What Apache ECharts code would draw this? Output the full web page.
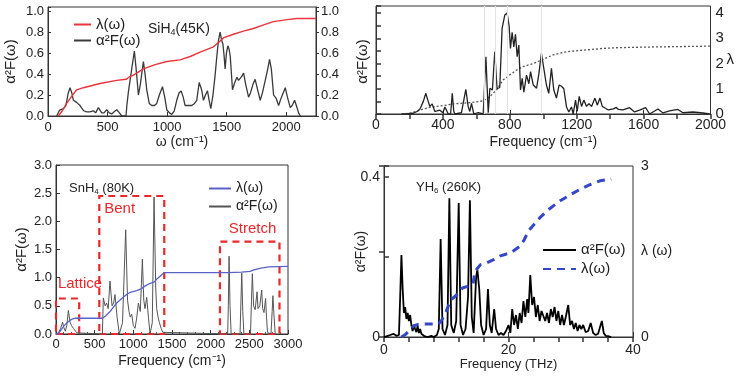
<!DOCTYPE html>
<html><head><meta charset="utf-8">
<script src="https://cdn.jsdelivr.net/npm/echarts@6/dist/echarts.min.js"></script>
<style>html,body{margin:0;padding:0;background:#fff}#c{width:736px;height:379px}</style>
</head><body><div id="c"></div>
<script>
// ---------- DATA ----------
// Panel 1: SiH4 (45K)  [omega cm^-1, value]
const siA2F = [[73,0],[98,0.057],[129,0.07],[150,0.1],[170,0.22],[185,0.27],[200,0.22],[213,0.15],[240,0.13],[269,0.1],[300,0.05],[325,0.04],[350,0.04],[381,0.05],[400,0.03],[423,0.08],[451,0.03],[470,0.03],[493,0.06],[515,0.03],[535,0.02],[555,0.04],[577,0.06],[600,0.03],[619,0],[655,0],[662,0.1],[675,0.23],[703,0.45],[725,0.62],[740,0.45],[759,0.2],[775,0.3],[801,0.52],[815,0.4],[829,0.25],[850,0.12],[871,0.1],[893,0.1],[913,0.12],[935,0.2],[961,0.28],[980,0.18],[997,0.06],[1020,0.03],[1039,0.015],[1060,0.05],[1081,0.15],[1100,0.22],[1118,0.24],[1135,0.18],[1151,0.1],[1180,0.1],[1207,0.1],[1230,0.12],[1249,0.15],[1269,0.32],[1290,0.25],[1305,0.15],[1322,0.2],[1339,0.24],[1353,0.15],[1367,0.07],[1385,0.2],[1403,0.39],[1420,0.6],[1431,0.72],[1445,0.8],[1458,0.72],[1468,0.69],[1478,0.58],[1487,0.45],[1498,0.6],[1510,0.67],[1520,0.64],[1530,0.57],[1540,0.4],[1549,0.25],[1568,0.32],[1586,0.37],[1600,0.34],[1614,0.33],[1628,0.38],[1642,0.41],[1660,0.3],[1684,0.18],[1700,0.22],[1720,0.3],[1739,0.35],[1760,0.25],[1782,0.15],[1800,0.22],[1824,0.34],[1845,0.45],[1860,0.54],[1875,0.45],[1894,0.2],[1915,0.17],[1936,0.1],[1960,0.18],[1992,0.27],[2010,0.18],[2034,0.08],[2050,0.1],[2070,0.15],[2085,0.1],[2104,0.03],[2118,0]];
const siLambda = [[87,0],[120,0.05],[157,0.12],[200,0.19],[241,0.25],[297,0.27],[437,0.31],[577,0.34],[655,0.35],[680,0.37],[717,0.39],[801,0.45],[900,0.49],[997,0.52],[1109,0.535],[1200,0.57],[1277,0.61],[1389,0.66],[1430,0.7],[1471,0.745],[1557,0.78],[1640,0.81],[1725,0.835],[1810,0.87],[1893,0.9],[2006,0.92],[2090,0.93],[2250,0.93]];
// Panel 2: [frequency cm^-1, value]
const p2A2F = [[153,0],[190,0.01],[223,0.03],[245,0.1],[263,0.2],[283,0.5],[298,0.82],[312,0.5],[322,0.3],[336,0.4],[352,0.1],[365,0.12],[382,0.15],[400,0.05],[412,0.28],[432,0],[446,0],[456,0.82],[465,0.1],[472,0],[511,0.05],[537,0.98],[551,0.3],[561,0.1],[571,0.42],[585,0],[611,0.05],[641,0],[657,2.27],[671,0.05],[681,1.02],[696,0.95],[710,2.47],[724,1.0],[740,1.05],[754,3.39],[770,3.92],[784,4.0],[796,3.48],[804,2.6],[814,3.24],[824,2.66],[834,3.16],[844,2.27],[854,2.73],[864,0.95],[874,1.41],[884,0.87],[900,1.54],[914,1.2],[924,1.68],[940,1.15],[960,1.02],[974,1.6],[989,2.4],[1005,1.74],[1019,1.15],[1033,0.82],[1049,1.81],[1063,0.95],[1079,0.63],[1095,1.15],[1109,1.1],[1123,1.0],[1139,0.28],[1153,0.08],[1169,0.28],[1179,0],[1193,0.55],[1203,0.1],[1215,0.7],[1229,0.3],[1243,0.55],[1259,0.3],[1273,0.41],[1289,0.3],[1309,0.63],[1323,0.35],[1339,0.63],[1353,0.3],[1369,0.24],[1389,0.16],[1419,0.2],[1437,0.26],[1449,0.18],[1477,0.16],[1516,0.25],[1546,0.08],[1576,0.15],[1612,0.25],[1636,0],[1686,0.2],[1716,0.04],[1755,0.12],[1805,0.18],[1835,0.05],[1895,0.08],[1955,0.04],[1995,0]];
const p2Lambda = [[153,0],[203,0.03],[250,0.12],[283,0.2],[320,0.26],[362,0.3],[400,0.33],[462,0.4],[561,0.45],[641,0.52],[681,0.69],[720,0.95],[760,1.35],[800,1.55],[840,1.74],[880,1.88],[940,2.0],[989,2.14],[1059,2.34],[1139,2.47],[1239,2.53],[1358,2.6],[1450,2.63],[1600,2.65],[2000,2.69]];
const p2Marks = [647, 712, 786, 989];
// Panel 3: SnH4 (80K)
const snA2F = [[0,0],[30,0.02],[60,0.1],[86,0.21],[100,0.12],[120,0.05],[140,0.15],[160,0.42],[180,0.22],[200,0.15],[225,0.1],[250,0.12],[270,0.02],[290,0],[600,0],[612,0.64],[635,0.5],[655,0.55],[675,0.45],[698,0.94],[725,0.5],[745,0.55],[763,0.7],[790,0.3],[819,0],[860,0.2],[901,1.85],[925,0.6],[944,0.4],[960,0.3],[979,0.35],[1000,0.15],[1022,0.1],[1045,0.3],[1065,0.55],[1090,0.4],[1117,1.33],[1135,0.6],[1151,0.45],[1173,0.65],[1195,0.3],[1216,0],[1245,0.2],[1268,2.43],[1290,0.8],[1302,0.45],[1320,0.3],[1337,0.2],[1360,0.1],[1380,0.03],[1400,0],[2220,0],[2228,0.5],[2238,1.38],[2250,0.5],[2265,0],[2380,0],[2392,0.6],[2402,1.08],[2415,0.4],[2430,0],[2515,0],[2528,0.6],[2539,1.07],[2555,0.5],[2575,0.43],[2600,0.75],[2612,0.45],[2635,0.5],[2660,0.78],[2672,0.45],[2690,0.38],[2710,0.63],[2722,0.3],[2735,0.03],[2780,0],[2795,0.4],[2805,0.68],[2820,0.3],[2835,0]];
const snLambda = [[0,0],[30,0],[60,0.06],[100,0.14],[150,0.21],[200,0.26],[250,0.28],[600,0.28],[640,0.32],[700,0.4],[785,0.55],[850,0.63],[914,0.7],[960,0.74],[1043,0.77],[1100,0.8],[1150,0.85],[1216,0.9],[1268,0.92],[1300,0.97],[1350,1.03],[1400,1.09],[1420,1.09],[2230,1.09],[2400,1.1],[2510,1.11],[2560,1.14],[2650,1.17],[2750,1.19],[3000,1.2]];
const snBoxes = [["Lattice",0,300,0.63],["Bent",560,1400,2.45],["Stretch",2120,2890,1.64]];
// Panel 4: YH6 (260K) [THz, value]
const yhA2F = [[0,0],[1,0.005],[1.5,0.008],[2,0.003],[2.4,0.005],[2.6,0.1],[2.8,0.205],[3.0,0.12],[3.2,0.06],[3.4,0.075],[3.6,0.045],[3.8,0.06],[4.0,0.04],[4.2,0.055],[4.4,0.03],[4.6,0.015],[4.8,0.03],[5.0,0.02],[5.2,0.012],[5.4,0.028],[5.6,0.01],[5.8,0.02],[6.0,0.008],[6.2,0.012],[6.5,0.002],[7,0],[7.6,0.003],[8,0],[8.5,0.005],[8.8,0.02],[9.1,0.245],[9.4,0.02],[9.8,0.005],[10.2,0.03],[10.5,0.347],[10.8,0.03],[11.2,0.01],[11.6,0.04],[12.0,0.335],[12.3,0.03],[12.7,0.005],[13.1,0.02],[13.5,0.1],[13.8,0.342],[14.1,0.05],[14.4,0.01],[14.8,0.15],[15.0,0.168],[15.3,0.12],[15.6,0.03],[16.0,0.005],[16.4,0.02],[16.7,0.12],[17.0,0.03],[17.3,0.01],[17.7,0.07],[18.0,0.02],[18.4,0.005],[18.8,0.01],[19.2,0.005],[19.6,0.015],[20.0,0.03],[20.3,0.01],[20.6,0.07],[20.9,0.03],[21.2,0.055],[21.5,0.02],[21.8,0.06],[22.1,0.035],[22.4,0.09],[22.7,0.05],[23.0,0.095],[23.2,0.06],[23.5,0.155],[23.8,0.08],[24.1,0.1],[24.4,0.05],[24.7,0.08],[25.0,0.04],[25.3,0.065],[25.6,0.07],[25.9,0.04],[26.2,0.06],[26.5,0.035],[26.8,0.07],[27.1,0.05],[27.4,0.075],[27.7,0.04],[28.0,0.065],[28.3,0.03],[28.6,0.055],[28.9,0.03],[29.2,0.05],[29.6,0.08],[29.9,0.03],[30.2,0.04],[30.5,0.02],[30.8,0.035],[31.1,0.015],[31.4,0.03],[31.7,0.02],[32.0,0.03],[32.4,0.012],[32.8,0.015],[33.2,0.035],[33.6,0.01],[34.0,0.005],[34.4,0.008],[34.8,0.03],[35.0,0.04],[35.3,0.01],[35.6,0.003],[36,0.002],[36.5,0]];
const yhLambda = [[2.8,0],[3.5,0.05],[4.2,0.13],[4.8,0.2],[5.5,0.22],[6.4,0.23],[8.8,0.23],[9.3,0.3],[10,0.45],[10.7,0.65],[11.5,0.72],[12.6,0.86],[14.3,0.92],[14.6,1.15],[15.5,1.27],[16.5,1.3],[17.7,1.36],[18.6,1.42],[20.4,1.48],[21.8,1.59],[22.5,1.7],[23.2,1.86],[25.1,2.1],[26.6,2.25],[28.3,2.39],[30,2.5],[31.5,2.59],[33,2.67],[34.7,2.74],[36.5,2.77]];
// Tick labels / titles
const titles = ["SiH{s|4}(45K)", "SnH{s|4} (80K)", "YH{s|6} (260K)"];
const xNames = ["ω (cm⁻¹)", "Frequency (cm⁻¹)", "Frequency (cm⁻¹)", "Frequency (THz)"];
const a2fName = "α²F(ω)";

// ---------- CHART ----------
const FONT = "'Liberation Sans',Arial,sans-serif";
const TXT = '#222';
const chart = echarts.init(document.getElementById('c'), null, {renderer:'canvas'});
const grid = (l,t,w,h)=>({left:l,top:t,width:w,height:h,show:true,borderColor:'#333',borderWidth:1,backgroundColor:'transparent',containLabel:false});
const axLine = {show:true,lineStyle:{color:'#333',width:1}};
const lbl = (fs,extra)=>Object.assign({color:TXT,fontSize:fs,fontFamily:FONT},extra||{});
const nameStyle = (fs)=>({color:TXT,fontSize:fs,fontFamily:FONT});
const oneDec = v => Math.abs(v*5-Math.round(v*5))<1e-6 ? v.toFixed(1) : '';
const halfDec = v => Math.abs(v*2-Math.round(v*2))<1e-6 ? v.toFixed(1) : '';
const plain = v => String(v);
const legendBase = {orient:'vertical',selectedMode:false,padding:0,itemStyle:{opacity:0,borderWidth:0}};

const option = {
  animation:false,
  backgroundColor:'#fff',
  grid:[grid(48,7,268,109), grid(376,6,335,108), grid(56,165,232,169), grid(384,166,249,171)],
  title:[
    {text:titles[0],left:143,top:16,textStyle:{fontSize:14,fontWeight:'normal',color:TXT,fontFamily:FONT,rich:{s:{fontSize:9,verticalAlign:'bottom',color:TXT,fontFamily:FONT,padding:[7,0,0,0]}}}},
    {text:titles[1],left:64,top:176,textStyle:{fontSize:13,fontWeight:'normal',color:TXT,fontFamily:FONT,rich:{s:{fontSize:8,verticalAlign:'bottom',color:TXT,fontFamily:FONT,padding:[7,0,0,0]}}}},
    {text:titles[2],left:411,top:175,textStyle:{fontSize:13,fontWeight:'normal',color:TXT,fontFamily:FONT,rich:{s:{fontSize:8,verticalAlign:'bottom',color:TXT,fontFamily:FONT,padding:[7,0,0,0]}}}}
  ],
  legend:[
    Object.assign({},legendBase,{data:['λ(ω)','α²F(ω)'],left:73,top:17,itemWidth:17,itemHeight:10,itemGap:1,textStyle:{color:TXT,fontSize:15,fontFamily:FONT,lineHeight:15}}),
    Object.assign({},legendBase,{data:['λ(ω) ','α²F(ω) '],left:208,top:181,itemWidth:22,itemHeight:10,itemGap:3,textStyle:{color:TXT,fontSize:14,fontFamily:FONT,lineHeight:15}}),
    Object.assign({},legendBase,{data:['α²F(ω)  ','λ(ω)  '],left:542,top:242,itemWidth:33,itemHeight:10,itemGap:3,textStyle:{color:TXT,fontSize:15,fontFamily:FONT,lineHeight:16}})
  ],
  xAxis:[
    {gridIndex:0,type:'value',min:0,max:2250,interval:500,position:'bottom',axisLine:axLine,axisTick:{inside:true,length:4,lineStyle:{color:'#333'}},splitLine:{show:false},
      axisLabel:lbl(13,{margin:5,showMaxLabel:false,formatter:v=>v%500===0?String(v):''}),name:xNames[0],nameLocation:'middle',nameGap:19,nameTextStyle:nameStyle(14)},
    {gridIndex:1,type:'value',min:0,max:2000,interval:400,position:'bottom',axisLine:axLine,axisTick:{inside:true,length:4,lineStyle:{color:'#333'}},splitLine:{show:false},
      axisLabel:lbl(14,{margin:4,formatter:plain}),name:xNames[1],nameLocation:'middle',nameGap:21,nameTextStyle:nameStyle(14)},
    {gridIndex:1,type:'value',min:0,max:2000,interval:200,position:'top',axisLine:axLine,axisTick:{inside:true,length:5,lineStyle:{color:'#333',width:1.5}},axisLabel:{show:false},splitLine:{show:false}},
    {gridIndex:2,type:'value',min:0,max:3000,interval:500,position:'bottom',axisLine:axLine,axisTick:{inside:true,length:4,lineStyle:{color:'#333'}},minorTick:{show:true,splitNumber:5,length:2,lineStyle:{color:'#555'}},splitLine:{show:false},
      axisLabel:lbl(13,{margin:4,formatter:plain}),name:xNames[2],nameLocation:'middle',nameGap:20,nameTextStyle:nameStyle(14)},
    {gridIndex:3,type:'value',min:0,max:40,interval:20,position:'bottom',axisLine:axLine,axisTick:{inside:true,length:5,lineStyle:{color:'#333'}},splitLine:{show:false},
      axisLabel:lbl(14,{margin:6,formatter:plain}),name:xNames[3],nameLocation:'middle',nameGap:19,nameTextStyle:nameStyle(13)},
    {gridIndex:3,type:'value',min:0,max:40,interval:4,position:'top',axisLine:axLine,axisTick:{inside:true,length:5,lineStyle:{color:'#333',width:1.5}},axisLabel:{show:false},splitLine:{show:false}}
  ],
  yAxis:[
    {gridIndex:0,type:'value',min:0,max:1.04,interval:0.2,position:'left',axisLine:axLine,axisTick:{inside:true,length:3,lineStyle:{color:'#333'}},splitLine:{show:false},
      axisLabel:lbl(13,{margin:4,formatter:oneDec}),name:a2fName,nameLocation:'middle',nameGap:30,nameMoveOverlap:false,nameTextStyle:nameStyle(15)},
    {gridIndex:0,type:'value',min:0,max:1.04,interval:0.2,position:'right',axisLine:axLine,axisTick:{inside:false,length:3,lineStyle:{color:'#333'}},splitLine:{show:false},
      axisLabel:lbl(13,{margin:5,formatter:oneDec}),name:a2fName,nameLocation:'middle',nameGap:39,nameMoveOverlap:false,nameTextStyle:nameStyle(15)},
    {gridIndex:1,type:'value',min:0,max:4.28,interval:0.5,position:'left',axisLine:axLine,axisTick:{inside:true,length:5,lineStyle:{color:'#333',width:1.5}},axisLabel:{show:false},splitLine:{show:false}},
    {gridIndex:1,type:'value',min:0,max:4.28,interval:0.5,position:'right',axisLine:axLine,axisTick:{inside:false,length:4,lineStyle:{color:'#333',width:1.5}},splitLine:{show:false},
      axisLabel:lbl(15,{margin:5,formatter:v=>Number.isInteger(v)?String(v):''}),name:'λ',nameLocation:'middle',nameRotate:0,nameGap:16,nameMoveOverlap:false,nameTextStyle:nameStyle(15)},
    {gridIndex:2,type:'value',min:0,max:3,interval:0.5,position:'left',axisLine:axLine,axisTick:{inside:true,length:4,lineStyle:{color:'#333'}},splitLine:{show:false},
      axisLabel:lbl(13,{margin:4,formatter:halfDec}),name:a2fName,nameLocation:'middle',nameGap:27,nameMoveOverlap:false,nameTextStyle:nameStyle(15)},
    {gridIndex:3,type:'value',min:0,max:0.4275,interval:0.2,position:'left',axisLine:axLine,axisTick:{inside:true,length:5,lineStyle:{color:'#333',width:1.5}},splitLine:{show:false},
      axisLabel:lbl(14,{margin:4,formatter:v=>v===0?'0':(Math.abs(v-0.4)<1e-6?'0.4':'')}),name:a2fName,nameLocation:'middle',nameGap:16,nameMoveOverlap:false,nameTextStyle:nameStyle(14)},
    {gridIndex:3,type:'value',min:0,max:3,interval:1.5,position:'right',axisLine:axLine,axisTick:{inside:true,length:5,lineStyle:{color:'#333',width:1.5}},splitLine:{show:false},
      axisLabel:lbl(14,{margin:8,formatter:v=>v===1.5?'λ (ω)':String(v)})}
  ],
  series:[
    {name:'λ(ω)',type:'line',xAxisIndex:0,yAxisIndex:0,data:siLambda,symbol:'none',lineStyle:{color:'#e8343a',width:1.4},itemStyle:{color:'#e8343a'},z:3},
    {name:'α²F(ω)',type:'line',xAxisIndex:0,yAxisIndex:0,data:siA2F,symbol:'none',lineStyle:{color:'#3a3a3a',width:1.3},itemStyle:{color:'#3a3a3a'},z:2},
    {name:'p2a2f',type:'line',xAxisIndex:1,yAxisIndex:3,data:p2A2F,symbol:'none',lineStyle:{color:'#222',width:1.3},itemStyle:{color:'#222'},z:3,
      markLine:{silent:true,symbol:['none','none'],label:{show:false},lineStyle:{color:'#e4e4e4',type:'solid',width:1.2},data:p2Marks.map(v=>({xAxis:v}))}},
    {name:'p2lambda',type:'line',xAxisIndex:1,yAxisIndex:3,data:p2Lambda,symbol:'none',lineStyle:{color:'#555',width:1.3,type:[2,2]},itemStyle:{color:'#555'},z:2},
    {name:'λ(ω) ',type:'line',xAxisIndex:3,yAxisIndex:4,data:snLambda,symbol:'none',lineStyle:{color:'#5a62c8',width:1.3},itemStyle:{color:'#5a62c8'},z:3},
    {name:'α²F(ω) ',type:'line',xAxisIndex:3,yAxisIndex:4,data:snA2F,symbol:'none',lineStyle:{color:'#555',width:1},itemStyle:{color:'#555'},z:2,
      markArea:{silent:true,itemStyle:{color:'rgba(0,0,0,0)',borderColor:'#e8282c',borderWidth:2.2,borderType:[7,5]},
        data:snBoxes.map((b,i)=>[{xAxis:b[1],yAxis:0,name:b[0],label:{show:true,position:[[3,-21],[6,6],[10,-19]][i],color:'#e8282c',fontSize:15,fontFamily:FONT}},{xAxis:b[2],yAxis:b[3]}])}},
    {name:'α²F(ω)  ',type:'line',xAxisIndex:4,yAxisIndex:5,data:yhA2F,symbol:'none',lineStyle:{color:'#000',width:1.8},itemStyle:{color:'#000'},z:2},
    {name:'λ(ω)  ',type:'line',xAxisIndex:4,yAxisIndex:6,data:yhLambda,symbol:'none',lineStyle:{color:'#3547c4',width:3,type:[8,6]},itemStyle:{color:'#3547c4'},z:3}
  ]
};
chart.setOption(option);
</script></body></html>
